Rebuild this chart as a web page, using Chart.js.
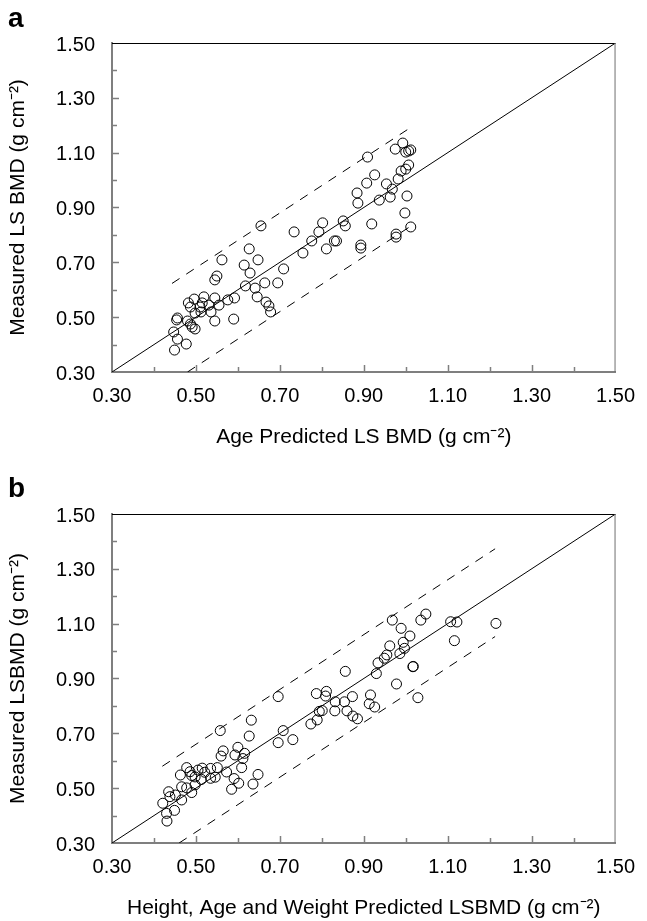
<!DOCTYPE html>
<html>
<head>
<meta charset="utf-8">
<script src="https://cdn.jsdelivr.net/npm/chart.js@4.4.1/dist/chart.umd.min.js"></script>
<style>
  html, body { margin: 0; padding: 0; background: #fff; }
  body { width: 647px; height: 921px; position: relative; overflow: hidden; font-family: 'Liberation Sans', Arial, sans-serif; }
  .panel { position: absolute; left: 0; width: 647px; }
  .panel canvas { display: block; }
  .tag { position: absolute; left: 8px; font-weight: bold; font-size: 28px; line-height: 28px; color: #000; }
</style>
</head>
<body>
<div class="panel" style="top:0;height:460px"><canvas id="chartA" width="647" height="460"></canvas></div>
<div class="tag" style="top:4px">a</div>
<div class="panel" style="top:460px;height:461px"><canvas id="chartB" width="647" height="461"></canvas></div>
<div class="tag" style="top:474px">b</div>
<script>
// axis ticks (both panels share the same 0.30 - 1.50 range)
const tickValues = [0.30, 0.50, 0.70, 0.90, 1.10, 1.30, 1.50];
const minorTicks = [0.40, 0.60, 0.80, 1.00, 1.20, 1.40];
const identityLine = [0.30, 1.50];

// panel a: age predicted vs measured LS BMD
const ageX = [0.655, 0.627, 0.648, 0.615, 0.629, 0.562, 0.550, 0.545, 0.618, 0.641,
              0.664, 0.695, 0.709, 0.646, 0.667, 0.674, 0.678, 0.734, 0.755, 0.776,
              0.793, 0.802, 0.811, 0.835, 0.830, 0.851, 0.856, 0.893, 0.893, 0.919,
              0.884, 0.886, 0.907, 0.909, 0.926, 0.937, 0.954, 0.963, 0.968, 0.982,
              0.989, 1.000, 1.007, 1.003, 0.998, 1.012, 0.975, 0.993, 1.000, 1.007,
              1.012, 0.977, 0.977, 0.482, 0.496, 0.519, 0.545, 0.576, 0.592, 0.487,
              0.510, 0.531, 0.555, 0.512, 0.536, 0.498, 0.456, 0.454, 0.480, 0.487,
              0.491, 0.498, 0.545, 0.590, 0.447, 0.456, 0.477, 0.449, 0.515];
const ageY = [0.833, 0.749, 0.709, 0.690, 0.661, 0.709, 0.650, 0.636, 0.614, 0.606,
              0.625, 0.625, 0.676, 0.574, 0.555, 0.541, 0.519, 0.811, 0.734, 0.778,
              0.811, 0.844, 0.749, 0.778, 0.778, 0.851, 0.833, 0.763, 0.752, 0.840,
              0.953, 0.916, 0.989, 1.084, 1.019, 0.927, 0.986, 0.938, 0.967, 1.004,
              1.033, 1.040, 1.055, 0.942, 0.880, 0.829, 1.113, 1.135, 1.102, 1.106,
              1.110, 0.803, 0.792, 0.552, 0.566, 0.574, 0.570, 0.563, 0.570, 0.537,
              0.537, 0.544, 0.544, 0.519, 0.519, 0.515, 0.497, 0.490, 0.486, 0.475,
              0.464, 0.457, 0.486, 0.493, 0.446, 0.420, 0.402, 0.380, 0.552];
const ageUpperX = [0.443, 1.012];
const ageUpperY = [0.623, 1.192];
const ageLowerX = [0.480, 1.012];
const ageLowerY = [0.300, 0.832];

// panel b: height, age and weight predicted vs measured LSBMD
const hawX = [0.421, 0.435, 0.438, 0.451, 0.449, 0.430, 0.431, 0.463, 0.478, 0.486,
              0.505, 0.515, 0.521, 0.535, 0.551, 0.490, 0.498, 0.513, 0.535, 0.546,
              0.466, 0.478, 0.498, 0.490, 0.466, 0.558, 0.565, 0.560, 0.573, 0.585,
              0.591, 0.600, 0.593, 0.612, 0.616, 0.627, 0.632, 0.609, 0.602, 0.636,
              0.648, 0.696, 0.708, 0.696, 0.731, 0.774, 0.789, 0.787, 0.794, 0.801,
              0.811, 0.809, 0.832, 0.854, 0.873, 0.831, 0.860, 0.874, 0.885, 0.916,
              0.913, 0.926, 0.930, 0.934, 0.856, 0.949, 0.955, 0.962, 0.968, 0.989,
              0.994, 1.010, 0.997, 0.986, 1.017, 0.978, 1.029, 1.036, 1.048, 1.107,
              1.122, 1.116, 1.215, 1.018];
const hawY = [0.445, 0.487, 0.469, 0.475, 0.419, 0.408, 0.380, 0.548, 0.575, 0.560,
              0.566, 0.573, 0.558, 0.572, 0.575, 0.546, 0.541, 0.532, 0.536, 0.540,
              0.505, 0.501, 0.512, 0.484, 0.457, 0.710, 0.636, 0.617, 0.559, 0.496,
              0.535, 0.649, 0.621, 0.608, 0.627, 0.690, 0.748, 0.575, 0.518, 0.515,
              0.550, 0.834, 0.710, 0.666, 0.677, 0.734, 0.749, 0.845, 0.780, 0.783,
              0.853, 0.836, 0.815, 0.815, 0.834, 0.782, 0.782, 0.763, 0.753, 0.840,
              0.808, 0.796, 0.918, 0.957, 0.926, 0.974, 0.986, 1.019, 1.113, 1.083,
              1.032, 1.055, 1.010, 0.991, 0.943, 0.880, 0.830, 1.113, 1.135, 1.107,
              1.106, 1.038, 1.101, 0.944];
const hawUpperX = [0.420, 1.213];
const hawUpperY = [0.580, 1.373];
const hawLowerX = [0.460, 1.213];
const hawLowerY = [0.300, 1.053];

const FONT = "'Liberation Sans', Arial, sans-serif";

function pts(xs, ys) {
    return xs.map((x, i) => ({ x: x, y: ys[i] }));
}

// top/right frame and the small inward tick marks
const framePlugin = {
    id: 'frame',
    afterDraw(chart) {
        const { ctx, chartArea: a, scales: { x, y } } = chart;
        ctx.save();
        ctx.lineWidth = 1;
        ctx.strokeStyle = '#000';
        ctx.beginPath();
        ctx.moveTo(a.left, a.top + 0.5);
        ctx.lineTo(a.right, a.top + 0.5);
        ctx.stroke();
        ctx.strokeStyle = '#6f6f6f';
        ctx.beginPath();
        ctx.moveTo(a.right - 0.5, a.top);
        ctx.lineTo(a.right - 0.5, a.bottom);
        ctx.stroke();

        ctx.strokeStyle = '#7f7f7f';
        ctx.lineWidth = 1.5;
        const marks = tickValues.slice(1, -1).map(v => [v, 7]).concat(minorTicks.map(v => [v, 5]));
        ctx.beginPath();
        marks.forEach(([v, len]) => {
            const px = Math.round(x.getPixelForValue(v)) + 0.5;
            const py = Math.round(y.getPixelForValue(v)) + 0.5;
            ctx.moveTo(px, a.bottom);
            ctx.lineTo(px, a.bottom - len);
            ctx.moveTo(a.left, py);
            ctx.lineTo(a.left + len, py);
        });
        ctx.stroke();
        ctx.restore();
    }
};

function makeChart(id, cfg) {
    const ctx = document.getElementById(id).getContext('2d');
    const lineStyle = { showLine: true, pointRadius: 0, borderColor: '#000', borderWidth: 1, fill: false };

    return new Chart(ctx, {
        type: 'scatter',
        data: {
            datasets: [
                { data: pts(identityLine, identityLine), ...lineStyle },
                { data: pts(cfg.upperX, cfg.upperY), ...lineStyle, borderDash: [9, 8] },
                { data: pts(cfg.lowerX, cfg.lowerY), ...lineStyle, borderDash: [9, 8] },
                {
                    data: pts(cfg.xs, cfg.ys),
                    pointStyle: 'circle',
                    pointRadius: 5,
                    borderColor: '#000',
                    borderWidth: 1,
                    backgroundColor: 'rgba(0,0,0,0)'
                }
            ]
        },
        options: {
            responsive: false,
            animation: false,
            layout: { padding: { left: 0, right: 21, top: cfg.top, bottom: 0 } },
            plugins: { legend: { display: false }, tooltip: { enabled: false } },
            scales: {
                x: {
                    type: 'linear', min: 0.3, max: 1.5,
                    afterBuildTicks: s => { s.ticks = tickValues.map(v => ({ value: v })); },
                    afterFit: s => { s.height = cfg.xHeight; },
                    grid: { display: false, drawTicks: false },
                    border: { display: true, color: '#7f7f7f', width: 2 },
                    ticks: {
                        color: '#000', padding: 12, maxRotation: 0, autoSkip: false,
                        font: { family: FONT, size: 20 },
                        callback: v => v.toFixed(2)
                    },
                    title: {
                        display: true, text: cfg.xTitle, color: '#000',
                        font: { family: FONT, size: 21 },
                        padding: { top: 0, bottom: cfg.xTitlePad }
                    }
                },
                y: {
                    type: 'linear', min: 0.3, max: 1.5,
                    afterBuildTicks: s => { s.ticks = tickValues.map(v => ({ value: v })); },
                    afterFit: s => { s.width = 112; },
                    grid: { display: false, drawTicks: false },
                    border: { display: true, color: '#7f7f7f', width: 2 },
                    ticks: {
                        color: '#000', padding: 17, labelOffset: 2,
                        font: { family: FONT, size: 20 },
                        callback: v => v.toFixed(2)
                    },
                    title: {
                        display: true, text: cfg.yTitle, color: '#000',
                        font: { family: FONT, size: 21 },
                        padding: { top: 6, bottom: 0 }
                    }
                }
            }
        },
        plugins: [framePlugin]
    });
}

makeChart('chartA', {
    xs: ageX, ys: ageY,
    upperX: ageUpperX, upperY: ageUpperY,
    lowerX: ageLowerX, lowerY: ageLowerY,
    top: 43, xHeight: 88, xTitlePad: 10,
    xTitle: 'Age Predicted LS BMD (g cm\u207B\u00B2)',
    yTitle: 'Measured LS BMD (g cm\u207B\u00B2)'
});

makeChart('chartB', {
    xs: hawX, ys: hawY,
    upperX: hawUpperX, upperY: hawUpperY,
    lowerX: hawLowerX, lowerY: hawLowerY,
    top: 54, xHeight: 78, xTitlePad: 0,
    xTitle: 'Height, Age and Weight Predicted LSBMD (g cm\u207B\u00B2)',
    yTitle: 'Measured LSBMD (g cm\u207B\u00B2)'
});
</script>
</body>
</html>
